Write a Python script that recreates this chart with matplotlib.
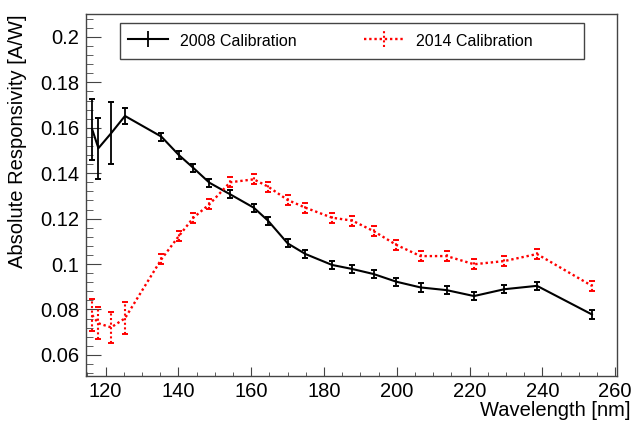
import numpy as np
import matplotlib
matplotlib.use('Agg')
import matplotlib.pyplot as plt
from matplotlib.ticker import MultipleLocator
from matplotlib.patches import Rectangle

plt.rcParams['font.family'] = ['Liberation Sans', 'DejaVu Sans']

# wavelengths [nm] and responsivity [A/W]
wl = [116.3, 118.0, 121.5, 125.3, 135.3, 140.1, 144.1, 148.5, 154.2, 160.7,
      164.6, 170.0, 174.9, 182.2, 187.8, 193.6, 199.9, 206.5, 213.7, 221.2,
      229.5, 238.5, 253.6]

resp_2008 = [0.1593, 0.1510, 0.1576, 0.1652, 0.1561, 0.1480, 0.1423, 0.1358,
             0.1307, 0.1248, 0.1191, 0.1091, 0.1044, 0.0996, 0.0978, 0.0956,
             0.0922, 0.0897, 0.0885, 0.0859, 0.0889, 0.0904, 0.0778]
err_2008 = [0.0135, 0.0135, 0.0136, 0.0035, 0.0018, 0.0018, 0.0018, 0.0018,
            0.0018, 0.0018, 0.0018, 0.0018, 0.0018, 0.0018, 0.0018, 0.0018,
            0.0018, 0.0018, 0.0018, 0.0018, 0.0018, 0.0018, 0.0018]

resp_2014 = [0.0775, 0.0739, 0.0721, 0.0761, 0.1021, 0.1123, 0.1204, 0.1263,
             0.1360, 0.1373, 0.1341, 0.1282, 0.1248, 0.1204, 0.1191, 0.1145,
             0.1084, 0.1035, 0.1035, 0.0999, 0.1013, 0.1044, 0.0904]
err_2014 = [0.0070, 0.0070, 0.0068, 0.0070, 0.0022, 0.0022, 0.0022, 0.0022,
            0.0022, 0.0022, 0.0022, 0.0022, 0.0022, 0.0022, 0.0022, 0.0022,
            0.0022, 0.0022, 0.0022, 0.0022, 0.0022, 0.0022, 0.0022]

labels = ['2008 Calibration', '2014 Calibration']
dots = (0, (1, 1.2))
frame_col = '#444444'

fig = plt.figure(figsize=(6.33, 4.25), dpi=100)
ax = fig.add_axes([0.1359, 0.1153, 0.8389, 0.8518])

ax.errorbar(wl, resp_2008, yerr=err_2008, color='black', lw=1.5,
            capsize=2.3, capthick=1.4, elinewidth=1.3)

e2 = ax.errorbar(wl, resp_2014, yerr=err_2014, color='red', lw=1.7, ls=dots,
                 capsize=2.3, capthick=1.4, elinewidth=1.5)
for bar in e2[2]:
    bar.set_linestyle(dots)

# legend proxies: line with a plain vertical bar, no caps (ROOT style)
h1 = ax.errorbar([np.nan], [np.nan], yerr=[0], color='black', lw=1.5,
                 elinewidth=1.3, capsize=0)
h2 = ax.errorbar([np.nan], [np.nan], yerr=[0], color='red', lw=1.7, ls=dots,
                 elinewidth=1.5, capsize=0)
for bar in h2[2]:
    bar.set_linestyle(dots)

ax.set_xlim(114.6, 260.5)
ax.set_ylim(0.0507, 0.2101)

ax.xaxis.set_major_locator(MultipleLocator(20))
ax.xaxis.set_minor_locator(MultipleLocator(5))
ax.set_yticks(np.arange(0.06, 0.201, 0.02))
ax.set_yticklabels(['0.06', '0.08', '0.1', '0.12', '0.14', '0.16', '0.18', '0.2'])
ax.yaxis.set_minor_locator(MultipleLocator(0.004))

ax.tick_params(which='both', direction='in', top=False, right=False,
               labelsize=14.5, color=frame_col)
ax.tick_params(axis='y', which='major', length=10.5, pad=5)
ax.tick_params(axis='y', which='minor', length=5)
ax.tick_params(axis='x', which='major', length=6.5, pad=4)
ax.tick_params(axis='x', which='minor', length=3.2)

for s in ax.spines.values():
    s.set_color(frame_col)
    s.set_linewidth(1.0)

ax.set_xlabel('Wavelength [nm]', fontsize=14.5, loc='right')
ax.xaxis.set_label_coords(1.0245, -0.094)
ax.xaxis.label.set_va('center')
ax.set_ylabel('Absolute Responsivity [A/W]', fontsize=14.5, loc='top')
ax.yaxis.set_label_coords(-0.112, 0.998)

# legend box
ax.add_patch(Rectangle((0.064, 0.876), 0.874, 0.099, transform=ax.transAxes,
                       facecolor='white', edgecolor=frame_col, lw=1.0,
                       zorder=5))
leg = ax.legend(handles=[h1, h2], labels=labels, ncol=2, loc='center left',
                bbox_to_anchor=(0.079, 0.9255), fontsize=11.5, frameon=False,
                borderaxespad=0, borderpad=0, handlelength=2.5,
                handleheight=1.0, handletextpad=0.75, columnspacing=4.2)
leg.set_zorder(6)

fig.savefig('out.png', dpi=100)
